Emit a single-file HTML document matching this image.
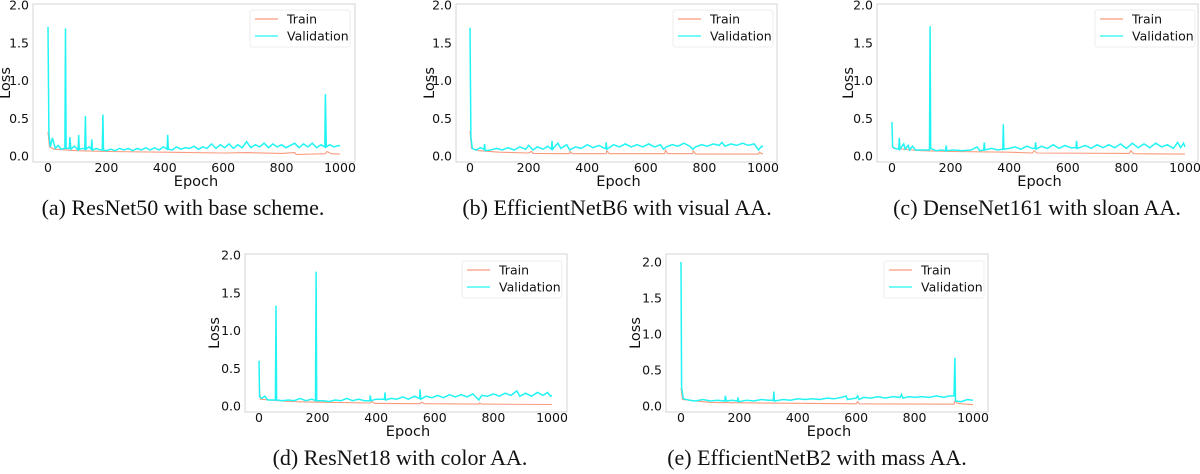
<!DOCTYPE html>
<html><head><meta charset="utf-8"><style>
body{margin:0;background:#fff;width:1200px;height:474px;overflow:hidden}
svg{display:block}
.tk{font-family:"DejaVu Sans","Liberation Sans",sans-serif;font-size:12.5px;fill:#111}
.ax{font-family:"DejaVu Sans","Liberation Sans",sans-serif;font-size:14.5px;fill:#111}
.cap{font-family:"Liberation Serif",serif;font-size:22px;fill:#111}
</style></head><body>
<svg id="fig" width="1200" height="474" viewBox="0 0 1200 474" xmlns="http://www.w3.org/2000/svg"></svg>
<script>
const xTicks=[0,200,400,600,800,1000];
const yTicks=[0,0.5,1.0,1.5,2.0];
const legendLabels=["Train","Validation"];
const captions=["(a) ResNet50 with base scheme.","(b) EfficientNetB6 with visual AA.","(c) DenseNet161 with sloan AA.","(d) ResNet18 with color AA.","(e) EfficientNetB2 with mass AA."];

const valXa=[0,3,8,15,25,35,45,58,60,62,73,75,78,90,103,105,107,120,126,128,130,140,148,150,152,165,180,186,188,190,200,215,230,245,260,275,290,305,320,335,350,365,380,395,408,410,412,425,440,455,470,485,500,515,530,545,560,575,590,605,620,635,650,665,680,695,710,725,740,755,770,785,800,815,830,845,860,875,890,905,920,935,948,950,953,965,980,995,1000];
const valYa=[1.71,0.3,0.12,0.24,0.1,0.14,0.09,0.1,1.69,0.1,0.1,0.25,0.09,0.13,0.08,0.28,0.09,0.1,0.09,0.53,0.09,0.12,0.09,0.22,0.08,0.1,0.08,0.08,0.55,0.08,0.07,0.09,0.07,0.1,0.08,0.1,0.07,0.1,0.08,0.11,0.08,0.11,0.08,0.12,0.09,0.28,0.09,0.08,0.12,0.09,0.11,0.1,0.13,0.09,0.12,0.1,0.16,0.1,0.15,0.11,0.16,0.1,0.15,0.11,0.19,0.11,0.15,0.12,0.17,0.11,0.16,0.12,0.15,0.11,0.14,0.17,0.11,0.16,0.12,0.17,0.11,0.15,0.12,0.82,0.12,0.15,0.12,0.14,0.13];
const trXa=[0,5,20,100,200,400,600,680,800,845,850,950,955,970,1000];
const trYa=[0.32,0.12,0.09,0.07,0.06,0.05,0.04,0.045,0.035,0.045,0.02,0.03,0.06,0.03,0.025];

const valXb=[0,3,8,20,35,48,50,52,70,90,110,130,150,170,190,200,215,230,250,265,278,280,282,300,310,330,340,360,380,400,420,440,460,463,465,467,490,510,530,550,570,590,610,630,650,660,670,690,710,730,750,760,770,790,810,830,850,860,870,890,910,930,950,970,985,995,1000];
const valYb=[1.7,0.25,0.1,0.08,0.11,0.09,0.16,0.07,0.08,0.1,0.08,0.11,0.08,0.12,0.09,0.14,0.08,0.12,0.09,0.13,0.09,0.2,0.09,0.17,0.1,0.15,0.08,0.12,0.1,0.15,0.11,0.14,0.1,0.1,0.18,0.09,0.15,0.12,0.16,0.12,0.15,0.12,0.16,0.12,0.15,0.09,0.12,0.15,0.13,0.17,0.13,0.09,0.12,0.15,0.13,0.16,0.14,0.18,0.13,0.16,0.14,0.17,0.14,0.16,0.08,0.13,0.12];
const trXb=[0,5,30,100,200,210,215,340,342,350,465,467,475,665,667,675,760,762,770,985,987,1000];
const trYb=[0.33,0.1,0.07,0.05,0.04,0.06,0.035,0.03,0.06,0.03,0.03,0.07,0.03,0.03,0.08,0.03,0.03,0.07,0.025,0.025,0.05,0.025];

const valXc=[0,2,10,23,25,27,40,45,55,60,70,80,100,120,128,130,132,150,170,183,185,187,210,240,270,290,300,313,315,317,340,360,378,380,382,400,420,440,460,480,488,490,492,510,530,550,570,590,610,628,630,632,660,680,700,720,740,760,780,800,820,840,860,880,900,920,940,960,975,985,995,1000];
const valYc=[0.45,0.12,0.1,0.09,0.24,0.09,0.16,0.09,0.14,0.08,0.13,0.08,0.08,0.08,0.08,1.72,0.1,0.07,0.08,0.07,0.14,0.07,0.08,0.07,0.08,0.12,0.07,0.08,0.18,0.08,0.1,0.08,0.09,0.42,0.09,0.1,0.12,0.09,0.13,0.1,0.1,0.18,0.09,0.13,0.1,0.15,0.1,0.14,0.11,0.11,0.2,0.1,0.14,0.1,0.15,0.11,0.15,0.11,0.16,0.1,0.17,0.11,0.16,0.11,0.17,0.12,0.15,0.1,0.18,0.11,0.17,0.12];
const trXc=[0,5,100,200,400,480,485,495,810,815,825,1000];
const trYc=[0.15,0.1,0.07,0.06,0.05,0.04,0.07,0.04,0.035,0.07,0.03,0.025];

const valXd=[0,2,10,20,30,50,56,58,60,80,100,120,140,160,180,193,195,197,220,240,260,280,300,320,340,360,378,380,382,400,428,430,432,450,470,490,510,530,548,550,552,570,590,610,630,650,670,690,710,730,750,760,780,800,820,840,860,880,890,910,930,950,970,985,995,1000];
const valYd=[0.6,0.12,0.1,0.13,0.08,0.08,0.08,1.33,0.08,0.07,0.08,0.07,0.1,0.07,0.09,0.07,1.78,0.07,0.07,0.06,0.08,0.07,0.1,0.07,0.09,0.07,0.07,0.14,0.07,0.09,0.09,0.18,0.08,0.1,0.09,0.12,0.09,0.13,0.1,0.22,0.09,0.13,0.11,0.14,0.11,0.15,0.12,0.15,0.12,0.16,0.08,0.14,0.13,0.16,0.13,0.17,0.14,0.2,0.13,0.17,0.13,0.18,0.14,0.18,0.13,0.14];
const trXd=[0,5,100,200,380,385,395,550,555,565,750,752,760,1000];
const trYd=[0.28,0.09,0.06,0.05,0.04,0.06,0.035,0.03,0.05,0.03,0.025,0.04,0.025,0.02];

const valXe=[0,2,8,30,50,75,100,125,150,152,155,175,193,195,198,225,250,275,300,316,318,320,350,375,400,425,450,475,500,525,550,565,570,600,605,610,625,650,675,700,725,750,755,760,780,800,825,850,875,900,920,935,938,940,960,980,1000];
const valYe=[2.0,0.25,0.1,0.08,0.07,0.09,0.07,0.08,0.07,0.14,0.07,0.08,0.07,0.12,0.06,0.08,0.07,0.09,0.08,0.08,0.2,0.07,0.09,0.08,0.1,0.09,0.1,0.09,0.11,0.1,0.12,0.14,0.09,0.11,0.14,0.09,0.12,0.11,0.13,0.11,0.13,0.12,0.16,0.11,0.13,0.12,0.13,0.12,0.14,0.12,0.14,0.14,0.67,0.07,0.06,0.09,0.08];
const trXe=[0,5,100,300,600,605,610,935,938,945,960,1000];
const trYe=[0.25,0.09,0.05,0.04,0.03,0.06,0.03,0.025,0.07,0.04,0.03,0.02];

const panels=[
 {id:"a",box:[33,4,355,162],x0:48,x1:340,y0:156,s:75.5,leg:[250,10],lossX:6,vx:valXa,vy:valYa,tx:trXa,ty:trYa,cap:[183,215]},
 {id:"b",box:[456,4,777,162],x0:470,x1:763,y0:156,s:75.5,leg:[673,10],lossX:430,vx:valXb,vy:valYb,tx:trXb,ty:trYb,cap:[617,215]},
 {id:"c",box:[877,4,1198,162],x0:892,x1:1185,y0:156,s:75.5,leg:[1095,10],lossX:849,vx:valXc,vy:valYc,tx:trXc,ty:trYc,cap:[1037,215]},
 {id:"d",box:[245,254,567,412],x0:259,x1:552,y0:406,s:75.5,leg:[462,261],lossX:215,vx:valXd,vy:valYd,tx:trXd,ty:trYd,cap:[400,465]},
 {id:"e",box:[666,254,988,412],x0:681,x1:973,y0:406,s:72,leg:[884,261],lossX:636,vx:valXe,vy:valYe,tx:trXe,ty:trYe,cap:[817,465]}
];
const NS="http://www.w3.org/2000/svg";
const fig=document.getElementById("fig");
function mk(tag,attrs,parent,text){const e=document.createElementNS(NS,tag);for(const k in attrs)e.setAttribute(k,attrs[k]);if(text!==undefined)e.textContent=text;parent.appendChild(e);return e;}
panels.forEach(p=>{
 const g=mk("g",{},fig);
 
 
 const X=v=>p.x0+(p.x1-p.x0)*v/1000, Y=v=>p.y0-v*p.s;
 const [l,t,r,b]=p.box;
 const frame=mk("rect",{x:l,y:t,width:r-l,height:b-t,fill:"#fff",stroke:"#d4d4d4","stroke-width":1},g);
 
 
 const clipId="clip"+p.id;
 const cp=mk("clipPath",{id:clipId},g);mk("rect",{x:l,y:t,width:r-l,height:b-t},cp);
 xTicks.forEach(v=>{const tx=mk("text",{x:X(v),y:b+10,"text-anchor":"middle",class:"tk"},g,String(v));
  });
 yTicks.forEach(v=>{const yy=Y(v);if(yy<t-8)return;const ty=mk("text",{x:l-4,y:yy+4.5,"text-anchor":"end",class:"tk"},g,v.toFixed(1));
  });
 const xl=mk("text",{x:(l+r)/2+2,y:b+24,"text-anchor":"middle",class:"ax"},g,"Epoch");
 
 const cy=(t+b)/2;
 const yl=mk("text",{x:p.lossX,y:cy,"text-anchor":"middle",class:"ax",transform:`rotate(-90 ${p.lossX} ${cy})`,"dominant-baseline":"middle"},g,"Loss");
 
 const line=(xs,ys,col,name,w)=>{let d="";xs.forEach((x,i)=>{d+=(i?"L":"M")+X(x).toFixed(1)+","+Y(ys[i]).toFixed(1);});
  const pa=mk("path",{d:d,fill:"none",stroke:col,"stroke-width":w,"clip-path":`url(#${clipId})`},g);
  };
 line(p.tx,p.ty,"#fa9a7e","train-line",1.1);
 line(p.vx,p.vy,"#22f4f4","validation-line",1.5);
 const [lx,ly]=p.leg;
 const lg=mk("g",{},g);
 
 mk("rect",{x:lx,y:ly,width:100,height:37,fill:"#fff",stroke:"#eee",rx:2},lg);
 const cols=["#fa9a7e","#22f4f4"];
 legendLabels.forEach((lab,i)=>{const yy=ly+9+i*17;
  mk("line",{x1:lx+5,x2:lx+28,y1:yy,y2:yy,stroke:cols[i],"stroke-width":1.3},lg);
  const lt=mk("text",{x:lx+37,y:yy+4.5,class:"tk"},lg,lab);
  });
 const c=mk("text",{x:p.cap[0],y:p.cap[1],"text-anchor":"middle",class:"cap"},g,captions["abcde".indexOf(p.id)]);
 
});
</script>
</body></html>
